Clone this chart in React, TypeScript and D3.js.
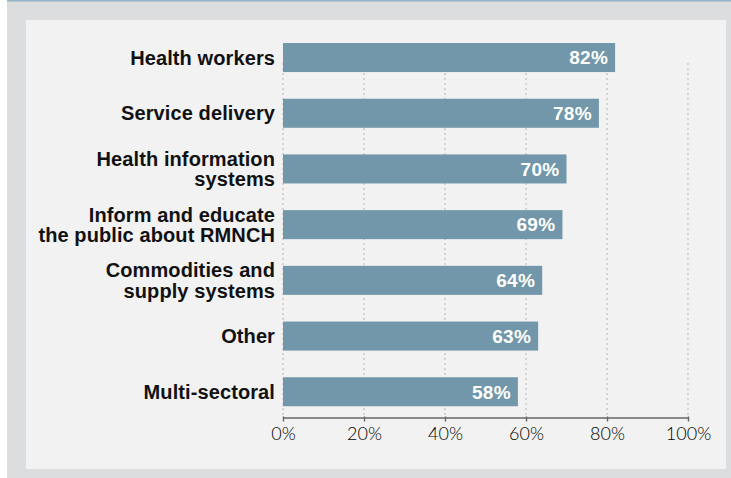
import React, { useEffect, useRef } from 'react';
import * as d3 from 'd3';

// categories (each entry = label lines), values in percent
const categories: string[][] = [
  ['Health workers'],
  ['Service delivery'],
  ['Health information', 'systems'],
  ['Inform and educate', 'the public about RMNCH'],
  ['Commodities and', 'supply systems'],
  ['Other'],
  ['Multi-sectoral'],
];
const values: number[] = [82, 78, 70, 69, 64, 63, 58];
const tickValues: number[] = [0, 20, 40, 60, 80, 100];

const W = 731;
const H = 478;

export default function App() {
  const ref = useRef<SVGSVGElement>(null);

  useEffect(() => {
    const svg = d3.select(ref.current);
    svg.selectAll('*').remove();

    // backgrounds
    svg.append('rect').attr('x', 7).attr('y', 0).attr('width', W - 7).attr('height', H).attr('fill', '#dcdddf');
    svg.append('rect').attr('x', 7).attr('y', 0).attr('width', W - 7).attr('height', 1.5).attr('fill', '#93b3c6');
    svg.append('rect').attr('x', 26).attr('y', 20).attr('width', 700).attr('height', 449).attr('fill', '#f2f2f2');

    const x = d3.scaleLinear().domain([0, 100]).range([283, 688]);
    const y = d3
      .scaleBand<number>()
      .domain(d3.range(values.length))
      .range([31.9, 417.4])
      .paddingInner(0.479)
      .paddingOuter(0.2);

    const axisY = 417.5;

    // dotted gridlines
    svg
      .append('g')
      .selectAll('line')
      .data(tickValues)
      .join('line')
      .attr('x1', (d) => x(d))
      .attr('x2', (d) => x(d))
      .attr('y1', 63)
      .attr('y2', axisY)
      .attr('stroke', '#b5b5b5')
      .attr('stroke-width', 1)
      .attr('stroke-dasharray', '2,3');

    // bars
    svg
      .append('g')
      .selectAll('rect')
      .data(values)
      .join('rect')
      .attr('x', x(0))
      .attr('y', (_, i) => y(i)!)
      .attr('width', (d) => x(d) - x(0))
      .attr('height', y.bandwidth())
      .attr('fill', '#7297aa');

    // value labels
    svg
      .append('g')
      .selectAll('text')
      .data(values)
      .join('text')
      .attr('x', (d) => x(d) - 7)
      .attr('y', (_, i) => y(i)! + y.bandwidth() / 2)
      .attr('dy', '0.36em')
      .attr('text-anchor', 'end')
      .attr('fill', '#ffffff')
      .style('font-family', '"Liberation Sans Narrow", "Liberation Sans", sans-serif')
      .style('font-weight', 'bold')
      .style('font-size', '19px')
      .style('letter-spacing', '0.3px')
      .text((d) => `${d}%`);

    // category labels
    const lineH = 20.6;
    svg
      .append('g')
      .selectAll('text')
      .data(categories)
      .join('text')
      .attr('text-anchor', 'end')
      .attr('fill', '#111')
      .style('font-family', '"Liberation Sans Narrow", "Liberation Sans", sans-serif')
      .style('font-weight', 'bold')
      .style('font-size', '20px')
      .style('letter-spacing', '0.1px')
      .each(function (lines, i) {
        const cy = y(i)! + y.bandwidth() / 2;
        const start = cy - ((lines.length - 1) * lineH) / 2;
        d3.select(this)
          .selectAll('tspan')
          .data(lines)
          .join('tspan')
          .attr('x', 275)
          .attr('y', (_, j) => start + j * lineH)
          .attr('dy', '0.36em')
          .text((l) => l);
      });

    // x axis
    const axis = svg
      .append('g')
      .attr('transform', `translate(0,${axisY})`)
      .call(
        d3
          .axisBottom(x)
          .tickValues(tickValues)
          .tickSize(4)
          .tickSizeOuter(0)
          .tickPadding(6)
          .tickFormat((d) => `${d}%`)
      );
    axis.select('.domain').attr('stroke', '#666').attr('stroke-width', 1.6);
    axis.selectAll('.tick line').attr('stroke', '#666').attr('stroke-width', 1.4).attr('y1', -1);
    axis
      .selectAll('.tick text')
      .attr('fill', '#000')
      .style('font-family', 'Lato, "Open Sans", sans-serif')
      .style('font-weight', 300)
      .style('font-size', '18px');
  }, []);

  return (
    <svg
      ref={ref}
      width={W}
      height={H}
      style={{ position: 'absolute', left: 0, top: 0, display: 'block' }}
    />
  );
}
